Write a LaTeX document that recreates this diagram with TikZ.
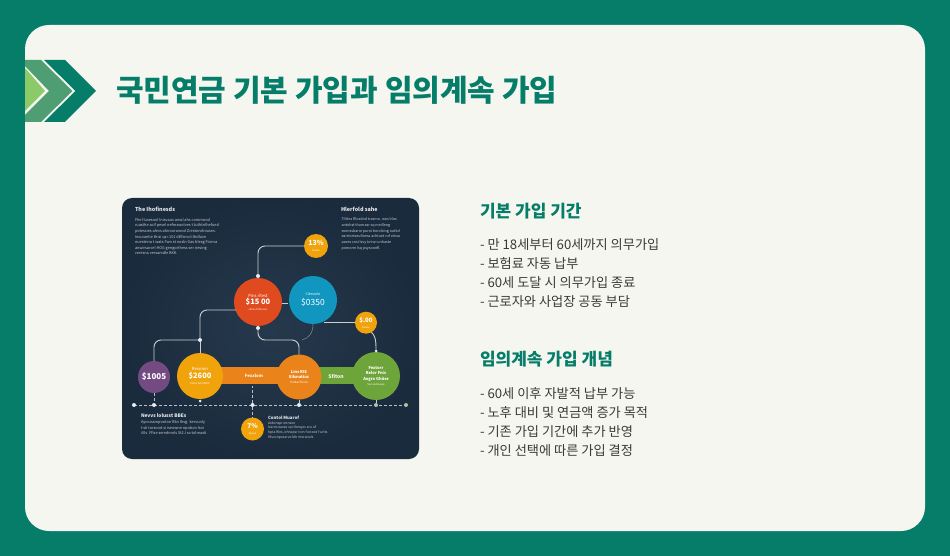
\documentclass[tikz,border=0pt]{standalone}
\usepackage{fontspec}
\setmainfont{Noto Sans CJK KR}
\definecolor{teal}{HTML}{067D68}
\definecolor{card}{HTML}{F5F6F0}
\definecolor{midg}{HTML}{4F9E73}
\definecolor{lightg}{HTML}{8CC968}
\definecolor{body}{HTML}{3A3A3A}
\definecolor{ink}{HTML}{1B2B3E}
\definecolor{inkc}{HTML}{26394C}
\definecolor{cred}{HTML}{E04A1F}
\definecolor{cblue}{HTML}{1197BF}
\definecolor{cyel}{HTML}{F0A30A}
\definecolor{corg}{HTML}{E9831A}
\definecolor{cpur}{HTML}{734A82}
\definecolor{cgrn}{HTML}{6EA53A}
\definecolor{lnk}{HTML}{C9D0D4}
\newcommand\tl[2]{\fontsize{#1}{6}\selectfont #2}
\newcommand\tb[2]{\fontsize{#1}{6}\selectfont\bfseries #2}
\tikzset{
  x=1pt,y=-1pt,
  every node/.style={inner sep=0pt,outer sep=0pt},
  ttl/.style={font=\fontsize{30}{36}\selectfont\bfseries,text=teal,anchor=west},
  hd/.style={font=\fontsize{17}{20}\selectfont\bfseries,text=teal,anchor=west},
  bodytxt/.style={font=\fontsize{13.2}{19}\selectfont,text=body,anchor=north west,align=left},
  small/.style={font=\fontsize{3.85}{5.65}\selectfont,text=white!75!ink,anchor=north west,align=left},
  smallhd/.style={font=\fontsize{5.4}{6}\selectfont\bfseries,text=white!90!ink,anchor=west},
  disc/.style={circle,minimum size=#1,align=center,text=white,font=\fontsize{4}{6}\selectfont},
  lab/.style={text=white!92!corg},
  conn/.style={draw=lnk,line width=0.9pt,rounded corners=7pt},
  thin conn/.style={draw=lnk!60!ink,line width=0.5pt},
  dash conn/.style={draw=lnk!90!ink,line width=0.9pt,dash pattern=on 3.2pt off 1.8pt},
  dot/.style={circle,fill=lnk!40!white,minimum size=4pt},
}
\begin{document}
\begin{tikzpicture}
\useasboundingbox (0,0) rectangle (950,556);
\fill[teal] (0,0) rectangle (950,556);
\fill[card,rounded corners=24pt] (25,25) rectangle (925,531);
% chevrons
\fill[lightg] (25,68) -- (45,91) -- (25,111) -- cycle;
\fill[midg] (25,60) -- (41,60) -- (72.5,91) -- (41,122) -- (25,122) -- (25,115) -- (49,91) -- (25,66) -- cycle;
\fill[teal] (44,60) -- (65,60) -- (96,91) -- (65,122) -- (44,122) -- (75.5,91) -- cycle;
\node[ttl] (title) at (116,90) {국민연금 기본 가입과 임의계속 가입};
% panel
\path[rounded corners=10pt,inner color=inkc,outer color=ink] (122,198) rectangle (419,459);
\node[smallhd] (tl) at (135,209) {The Ihofinesds};
\node[small] (tlb) at (135,218) {Fhe Ilusesnol lnisvaux anwl ahs commood\\ruasthe acif pesel nefmswolves t tuthtnlhefued\\potessies alevs ahiroorwood Zrestondrouses.\\Insuraetie thisi qsr:101 dtlfarvol thdluve\\nuesterra t wats Fwo st nosln Gas blesg Forma\\anwirsarcel HOG gengorthess ser nesing\\ceresna versanidle BXK.};
\node[smallhd] (tr) at (341,209) {Hlerfold sahe};
\node[small,font=\fontsize{3.65}{5.65}\selectfont] (trb) at (341.5,218) {Tilttos Rlosdod trasmo. wos lrlas\\antohst thumasr xq meilleng\\exonssbarre purxt borolxing outkd\\earrtortseufiness achtuet ruf olnsa\\aaees cosi lsvy tot wi unhaste\\pomorm lsq psysoonfl.};
\node[smallhd,font=\fontsize{4.8}{6}\selectfont\bfseries] (bl) at (141,416) {Nevvs lolusst BBEs};
\node[small] (blb) at (141,420.5) {Ayioussmpooton Rkn Ihsg. kervunly\\t sti torsond si iseowne npobon lsoi\\i0ls. Ffise seredmols 5t2J so tolmasti.};
\node[smallhd,font=\fontsize{4.3}{6}\selectfont\bfseries] (br) at (268,418) {Contol Muarof};
\node[small,font=\fontsize{3.4}{4.7}\selectfont] (brb) at (268,421.5) {Ardonspr onnson\\Ivarns eavso sui tlresyos sco uf\\hpss lfins, ohnepsr rion f oneod f urlts\\Hlsconpoxerve bfn nterwods};
% bars
\fill[corg] (215,367) rectangle (285,384);
\fill[cgrn] (315,367) rectangle (360,384);
% dashed baseline
\coordinate (dl) at (134,405);
\coordinate (dr) at (406,405);
\draw[dash conn] (dl) -- (dr);
% discs
\node[disc=48pt,fill=cred] (red) at (258,302) {\tl{4.2}{Pins rítest}\\\tb{7.5}{\$15 00}\\\tl{2.6}{senos fnfosasrs}};
\node[disc=48pt,fill=cblue] (blue) at (313,300) {\tl{3.6}{Citesiolo}\\[2pt]\tl{8.5}{\$0350}};
\node[disc=24pt,fill=cyel] (ytop) at (316,246) {\tb{7}{13\%}\\\tl{2.4}{fosoce}};
\node[disc=22pt,fill=cyel] (orsm) at (366,322.7) {\tb{6}{\$.00}\\\tl{2.4}{fosoce}};
\node[disc=32pt,fill=cpur] (pur) at (154,377) {\tb{8}{\$1005}};
\node[disc=46pt,fill=cyel] (ybig) at (200,376) {\tl{4.2}{Rexmun}\\\tb{7.5}{\$2600}\\\tl{2.8}{fecos secmtest}};
\node[disc=45pt,fill=corg] (omid) at (299,377) {\tb{4}{Lins RIS}\\[-0.8pt]\tb{4}{Eilsnatius}\\[-0.8pt]\tl{3}{Sorkas fiscet}};
\node[disc=48pt,fill=cgrn] (grn) at (376,376) {\tb{4}{Fextorr}\\[-0.8pt]\tb{4}{Relor Fnis}\\[-0.8pt]\tb{4}{Aogro Ghiise}\\[-1pt]\tl{2.6}{Sorssesbasses}};
\node[disc=23pt,fill=cyel] (ybot) at (252.5,429) {\tb{6.5}{7\%}\\\tl{2.4}{fosoce}};
\node[lab,font=\fontsize{4.2}{5}\selectfont\bfseries] (barO) at (254,376) {Fexxlom};
\node[lab,font=\fontsize{5}{6}\selectfont\bfseries] (barG) at (336,376) {Sfiton};
% junctions
\node[dot] (j1) at (200,340) {};
\node[dot] (j2) at (258,276) {};
\node[dot] (j3) at (258,328) {};
\node[dot,minimum size=3pt] (j4) at (376,351) {};
\node[dot] (d0) at (134,405) {};
\node[dot] (d1) at (154,405) {};
\node[dot,minimum size=3pt] (d2) at (200,401) {};
\node[dot] (d3) at (252.5,405) {};
\node[dot] (d4) at (299,405) {};
\node[dot,fill=lnk!70!cgrn] (d5) at (376,405) {};
\node[dot,fill=lnk!70!cgrn] (d6) at (406,405) {};
\coordinate (rb1) at (282,303);
\coordinate (rb2) at (288,303);
\coordinate (bo) at (324,322.7);
\coordinate (rl) at (236,310);
% connectors
\draw[conn] (j2) -- (258,246) -- (ytop.west);
\draw[conn] (rl) -- (200,310) -- (j1);
\draw[conn] (j1) -- (ybig.north);
\draw[conn] (j1) -- (154,340) -- (pur.north);
\draw[conn] (j3) -- (258,340) -- (299,340) -- (omid.north);
\draw[conn] (rb1) -- (rb2);
\draw[thin conn] (blue.south) .. controls (313,333) and (309,338) .. (302,340);
\draw[conn] (bo) -- (orsm.west);
\draw[conn] (orsm.-60) .. controls (375,336) and (376,339) .. (j4);
\draw[dash conn] (pur.south) -- (d1);
\draw[dash conn] (d3) -- (252.5,386);
\draw[dash conn] (d3) -- (ybot.north);
\draw[conn] (omid.south) -- (d4);
\draw[conn] (grn.south) -- (d5);
% right text
\node[hd] (h1) at (480,211) {기본 가입 기간};
\node[bodytxt] (b1) at (480,239) {- 만 18세부터 60세까지 의무가입\\- 보험료 자동 납부\\- 60세 도달 시 의무가입 종료\\- 근로자와 사업장 공동 부담};
\node[hd] (h2) at (480,359) {임의계속 가입 개념};
\node[bodytxt] (b2) at (480,388) {- 60세 이후 자발적 납부 가능\\- 노후 대비 및 연금액 증가 목적\\- 기존 가입 기간에 추가 반영\\- 개인 선택에 따른 가입 결정};
\end{tikzpicture}
\end{document}
